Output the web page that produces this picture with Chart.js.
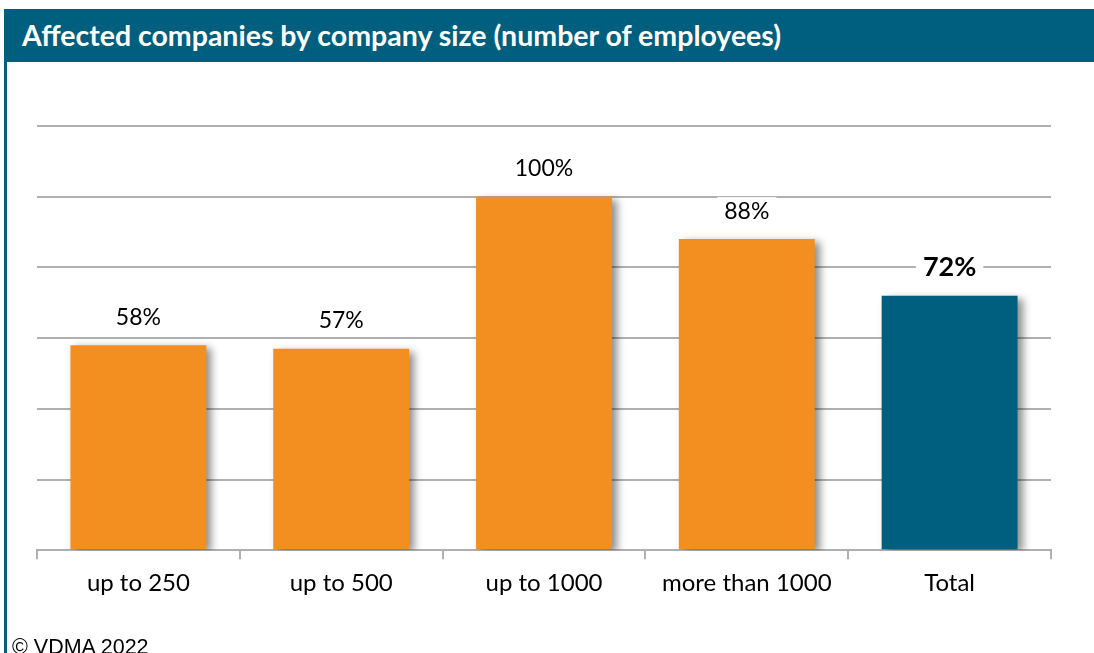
<!DOCTYPE html>
<html>
<head>
<meta charset="utf-8">
<script src="https://cdn.jsdelivr.net/npm/chart.js@4/dist/chart.umd.min.js"></script>
<style>
  html, body { margin: 0; padding: 0; background: #fff; overflow: hidden; }
  body { width: 1094px; height: 653px; position: relative; }
  #frame { position: absolute; left: 4px; top: 9px; width: 3px; height: 644px; background: #005f7e; }
  #header {
    position: absolute; left: 4px; top: 9px; width: 1090px; height: 53px;
    background: #005f7e; color: #fff;
    font-family: Lato, "Open Sans", sans-serif; font-weight: bold; font-size: 28.5px;
    line-height: 53px; padding-left: 18px; box-sizing: border-box; white-space: nowrap;
  }
  #wrap { position: absolute; left: 0; top: 62px; width: 1094px; height: 591px; }
  #copy {
    position: absolute; left: 12px; top: 635px;
    font-family: "Liberation Sans", Arial, sans-serif; font-size: 21.5px; color: #000;
  }
</style>
</head>
<body>
<div id="header">Affected companies by company size (number of employees)</div>
<div id="frame"></div>
<div id="wrap"><canvas id="chart"></canvas></div>
<div id="copy">© VDMA 2022</div>
<script>
// share of affected companies, in percent
const categories = ["up to 250", "up to 500", "up to 1000", "more than 1000", "Total"];
const affected = [58, 57, 100, 88, 72];
const barColors = ["#f28f20", "#f28f20", "#f28f20", "#f28f20", "#005f7e"];
const yTicks = [0, 20, 40, 60, 80, 100, 120];

// soft drop shadow behind the bars
const barShadow = {
  id: "barShadow",
  beforeDatasetDraw(chart, args) {
    const ctx = chart.ctx;
    ctx.save();
    ctx.shadowColor = "rgba(0,0,0,0.45)";
    ctx.shadowBlur = 8;
    ctx.shadowOffsetX = 5;
    ctx.shadowOffsetY = 3;
  },
  afterDatasetDraw(chart) {
    chart.ctx.restore();
  }
};

// percent labels above each bar, on a white box that hides the grid line
const valueLabels = {
  id: "valueLabels",
  afterDatasetsDraw(chart) {
    const ctx = chart.ctx;
    const meta = chart.getDatasetMeta(0);
    meta.data.forEach((bar, i) => {
      const last = i === affected.length - 1;
      const text = affected[i] + "%";
      ctx.save();
      ctx.font = last ? "bold 27px Lato" : "23px Lato";
      const w = ctx.measureText(text).width;
      const cy = bar.y - 28;
      ctx.fillStyle = "#fff";
      ctx.fillRect(bar.x - w / 2 - 7, cy - 14, w + 14, 28);
      ctx.fillStyle = "#000";
      ctx.textAlign = "center";
      ctx.textBaseline = "middle";
      ctx.fillText(text, bar.x, cy);
      ctx.restore();
    });
  }
};

new Chart(document.getElementById("chart"), {
  type: "bar",
  data: {
    labels: categories,
    datasets: [{
      data: affected,
      backgroundColor: barColors,
      barPercentage: 0.67,
      categoryPercentage: 1
    }]
  },
  options: {
    responsive: true,
    maintainAspectRatio: false,
    animation: false,
    layout: { padding: { left: 37, right: 43, top: 64, bottom: 45 } },
    plugins: { legend: { display: false }, tooltip: { enabled: false } },
    scales: {
      x: {
        grid: { drawOnChartArea: false, tickLength: 9, color: "#b0b0b0", lineWidth: 2 },
        border: { color: "#b0b0b0", width: 2 },
        ticks: { color: "#000", font: { family: "Lato", size: 24 }, padding: 10 }
      },
      y: {
        min: 0,
        max: 120,
        afterBuildTicks(scale) { scale.ticks = yTicks.map(v => ({ value: v })); },
        grid: { color: "#b0b0b0", lineWidth: 2, drawTicks: false },
        border: { display: false },
        ticks: { display: false }
      }
    }
  },
  plugins: [barShadow, valueLabels]
});
</script>
</body>
</html>
